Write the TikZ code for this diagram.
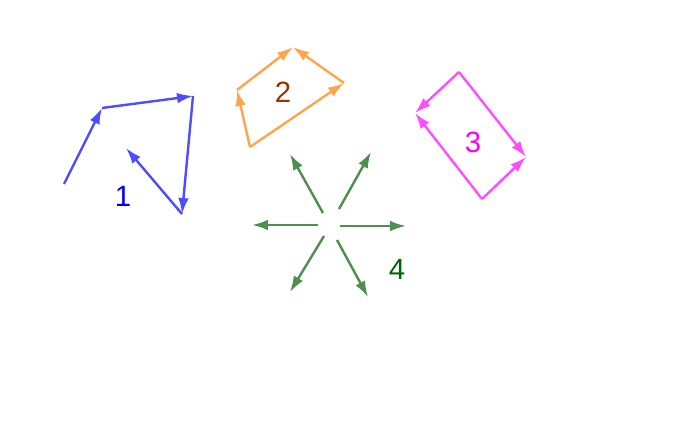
\documentclass[tikz,border=0pt]{standalone}
\usepackage{fontspec}
\setmainfont{Liberation Sans}
\usetikzlibrary{arrows.meta}
\definecolor{vecblue}{HTML}{4D4DFF}
\definecolor{vecorange}{HTML}{FFA64D}
\definecolor{vecpink}{HTML}{FF4DFF}
\definecolor{vecgreen}{HTML}{4D8F4D}
\definecolor{numblue}{HTML}{0000FF}
\definecolor{numbrown}{HTML}{993300}
\definecolor{numpink}{HTML}{FF00FF}
\definecolor{numgreen}{HTML}{006600}
\tikzset{vec/.style = {-{Latex[length=12pt,width=8pt]}, line width=1.8pt}}
\tikzset{num/.style = {font=\fontsize{22}{26}\selectfont, inner sep=0}}

\begin{document}
\begin{tikzpicture}[x=0.75pt, y=-0.75pt]
      \useasboundingbox (0,0) rectangle (698,445);
      % 1
      \coordinate (b1) at (64,184);
      \coordinate (b2) at (102,108);
      \coordinate (b3) at (193,96);
      \coordinate (b4) at (182,214);
      \coordinate (b5) at (126,148);
      \draw [vec, vecblue] (b1) -- (b2);
      \draw [vec, vecblue] (b2) -- (b3);
      \draw [vec, vecblue] (b3) -- (b4);
      \draw [vec, vecblue] (b4) -- (b5);
      \node [num, text=numblue] (one) at (123,196) {1};
      % 2
      \coordinate (o1) at (250,147);
      \coordinate (o2) at (237,90);
      \coordinate (o3) at (293,47);
      \coordinate (o4) at (344,83);
      \draw [vec, vecorange] (o1) -- (o2);
      \draw [vec, vecorange] (o2) -- (o3);
      \draw [vec, vecorange] (o1) -- (o4);
      \draw [vec, vecorange] (o4) -- (o3);
      \node [num, text=numbrown] (two) at (283,92) {2};
      % 3
      \coordinate (p1) at (459,72);
      \coordinate (p2) at (415,113);
      \coordinate (p3) at (526,157);
      \coordinate (p4) at (482,199);
      \draw [vec, vecpink] (p1) -- (p2);
      \draw [vec, vecpink] (p1) -- (p3);
      \draw [vec, vecpink] (p4) -- (p2);
      \draw [vec, vecpink] (p4) -- (p3);
      \node [num, text=numpink] (three) at (473,142) {3};
      % 4
      \coordinate (gl0) at (318,225);  \coordinate (gl) at (252,225);
      \coordinate (gr0) at (340,226);  \coordinate (gr) at (406,226);
      \coordinate (gul0) at (323,213); \coordinate (gul) at (290,154);
      \coordinate (gur0) at (339,209); \coordinate (gur) at (371,152);
      \coordinate (gdl0) at (324,236); \coordinate (gdl) at (290,292);
      \coordinate (gdr0) at (337,240); \coordinate (gdr) at (368,297);
      \foreach \d in {l, r, ul, ur, dl, dr}
        \draw [vec, vecgreen] (g\d0) -- (g\d);
      \node [num, text=numgreen] (four) at (397,269) {4};
\end{tikzpicture}
\end{document}
